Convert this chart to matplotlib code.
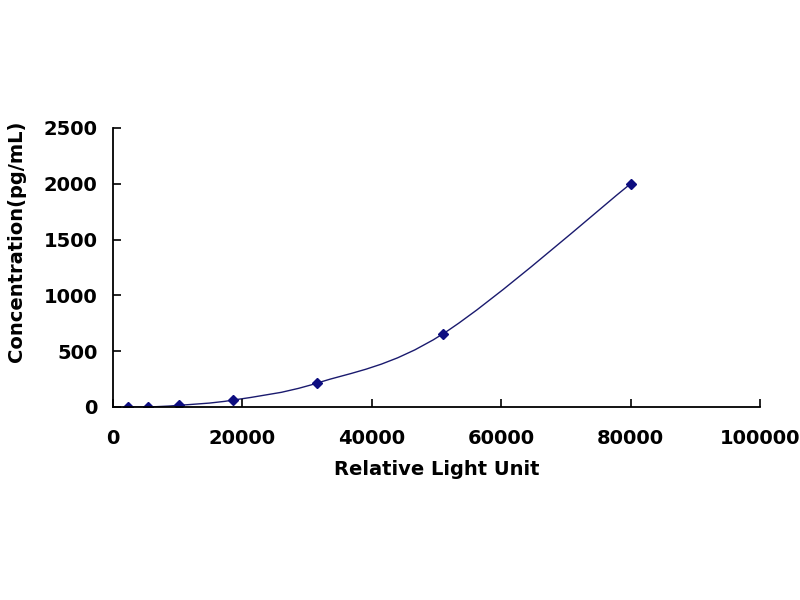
import numpy as np
import matplotlib
matplotlib.use("Agg")
from matplotlib import pyplot as plt
from matplotlib.path import Path
from matplotlib.patches import PathPatch

# standard curve points
rlu = [2300, 5400, 10200, 18600, 31600, 51000, 80000]
conc = [0, 0, 15, 62, 215, 655, 2000]

x_ticks = [0, 20000, 40000, 60000, 80000, 100000]
y_ticks = [0, 500, 1000, 1500, 2000, 2500]

plt.rcParams['font.family'] = ['DejaVu Sans']
navy = '#1a1a6e'

fig = plt.figure(figsize=(8, 6), dpi=100)
ax = fig.add_axes([0.141, 0.3217, 0.809, 0.465])


def smooth_path(xs, ys, t=1 / 6):
    # excel-like smoothed line: bezier segments through the points
    xs = np.asarray(xs, float)
    ys = np.asarray(ys, float)
    n = len(xs)
    verts = [(xs[0], ys[0])]
    codes = [Path.MOVETO]
    for i in range(n - 1):
        p0 = i - 1 if i > 0 else i
        p3 = i + 2 if i + 2 < n else i + 1
        c1 = (xs[i] + (xs[i + 1] - xs[p0]) * t, ys[i] + (ys[i + 1] - ys[p0]) * t)
        c2 = (xs[i + 1] - (xs[p3] - xs[i]) * t, ys[i + 1] - (ys[p3] - ys[i]) * t)
        verts += [c1, c2, (xs[i + 1], ys[i + 1])]
        codes += [Path.CURVE4] * 3
    return Path(verts, codes)


ax.add_patch(PathPatch(smooth_path(rlu, conc), facecolor='none',
                       edgecolor=navy, linewidth=1.0))
ax.plot(rlu, conc, linestyle='none', marker='D', markersize=5,
        color='#0d0d80')

ax.set_xlim(0, 100000)
ax.set_ylim(0, 2500)
ax.set_xticks(x_ticks)
ax.set_yticks(y_ticks)
ax.tick_params(direction='in', length=6, width=1.2, labelsize=14)
ax.tick_params(axis='x', pad=16)
ax.tick_params(axis='y', pad=11)
for lab in ax.get_xticklabels() + ax.get_yticklabels():
    lab.set_fontweight('bold')

ax.spines['top'].set_visible(False)
ax.spines['right'].set_visible(False)
ax.spines['left'].set_linewidth(1.3)
ax.spines['bottom'].set_linewidth(1.3)

ax.set_xlabel('Relative Light Unit', fontsize=14, fontweight='bold')
ax.set_ylabel('Concentration(pg/mL)', fontsize=14, fontweight='bold')
ax.xaxis.set_label_coords(0.5, -0.19)
ax.yaxis.set_label_coords(-0.134, 0.595)

fig.savefig('out.png', dpi=100)
